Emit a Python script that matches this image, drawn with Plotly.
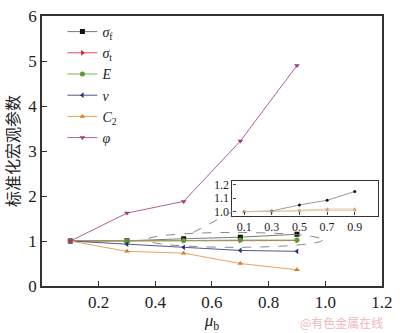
import plotly.graph_objects as go

mu_b = [0.1, 0.3, 0.5, 0.7, 0.9]
sigma_f = [1.0, 1.005, 1.05, 1.085, 1.15]
sigma_t = [1.0, 1.0, 1.005, 1.01, 1.01]
E_mod = [1.0, 1.0, 1.01, 1.02, 1.02]
nu = [1.0, 0.93, 0.86, 0.79, 0.77]
C2 = [1.0, 0.77, 0.73, 0.50, 0.36]
phi = [1.0, 1.62, 1.88, 3.22, 4.90]

x_ticks = [0.2, 0.4, 0.6, 0.8, 1.0, 1.2]
x_tick_text = ["0.2", "0.4", "0.6", "0.8", "1.0", "1.2"]
y_ticks = [0, 1, 2, 3, 4, 5, 6]
inset_x_ticks = [0.1, 0.3, 0.5, 0.7, 0.9]
inset_y_ticks = [1.0, 1.1, 1.2]

series = [
    ("<i>σ</i><sub>f</sub>", sigma_f, "#7a7a7a", "#111111", "square"),
    ("<i>σ</i><sub>t</sub>", sigma_t, "#e05060", "#d02030", "triangle-right"),
    ("<i>E</i>", E_mod, "#7ab050", "#5a9a30", "circle"),
    ("<i>v</i>", nu, "#505890", "#283070", "triangle-left"),
    ("<i>C</i><sub>2</sub>", C2, "#eba060", "#e07820", "triangle-up"),
    ("<i>φ</i>", phi, "#b0609a", "#9a3a80", "triangle-down"),
]

SERIF = "Liberation Serif, serif"

fig = go.Figure()
for name, ys, lc, mc, sym in series:
    fig.add_trace(go.Scatter(
        x=mu_b, y=ys, mode="lines+markers", name=name,
        line=dict(color=lc, width=1),
        marker=dict(color=mc, symbol=sym, size=5),
        xaxis="x", yaxis="y",
    ))

# inset traces
for name, ys, lc, mc, sym in series:
    if "σ</i><sub>f" in name:
        lcol, mcol = "#9a9a9a", "#111111"
    else:
        lcol, mcol = "rgba(215,195,150,0.8)", "rgba(200,160,120,0.8)"
    if max(ys) > 1.3 or min(ys) < 0.95:
        continue
    fig.add_trace(go.Scatter(
        x=mu_b, y=ys, mode="lines+markers", showlegend=False,
        line=dict(color=lcol, width=1),
        marker=dict(color=mcol, size=3),
        xaxis="x2", yaxis="y2",
    ))

axis_common = dict(
    showline=True, linecolor="#333333", linewidth=1.5, mirror=True,
    ticks="inside", ticklen=5, tickcolor="#333333", showgrid=False, zeroline=False,
)

fig.update_layout(
    width=400, height=333,
    margin=dict(l=42, r=10, t=7, b=46),
    paper_bgcolor="white", plot_bgcolor="white",
    font=dict(family=SERIF, size=17, color="#222222"),
    xaxis=dict(range=[0, 1.2001], tickvals=x_ticks, ticktext=x_tick_text,
               tickfont=dict(family=SERIF, size=17), ticklabeloverflow="allow",
               title=dict(text="<i>μ</i><sub>b</sub>", standoff=2,
                          font=dict(family=SERIF, size=17)),
               **axis_common),
    yaxis=dict(range=[0, 6.0001], tickvals=y_ticks,
               tickfont=dict(family=SERIF, size=17), ticklabeloverflow="allow",
               title=dict(text="标准化宏观参数", standoff=6,
                          font=dict(family="Noto Sans CJK SC", size=16)),
               **axis_common),
    xaxis2=dict(domain=[0.56, 0.989], anchor="y2", range=[0.015, 1.07],
                tickvals=inset_x_ticks, tickfont=dict(family=SERIF, size=12),
                showline=True, linecolor="#333333", linewidth=1.2, mirror=True,
                ticks="inside", ticklen=3, showgrid=False, zeroline=False),
    yaxis2=dict(domain=[0.261, 0.389], anchor="x2", range=[0.971, 1.229],
                tickvals=inset_y_ticks, ticktext=["1.0", "1.1", "1.2"],
                tickfont=dict(family=SERIF, size=12),
                showline=True, linecolor="#333333", linewidth=1.2, mirror=True,
                ticks="inside", ticklen=3, showgrid=False, zeroline=False),
    legend=dict(x=0.06, y=1.0, xanchor="left", yanchor="top",
                bgcolor="rgba(0,0,0,0)", font=dict(size=14, family=SERIF),
                itemwidth=30, tracegroupgap=0),
    shapes=[
        dict(type="circle", xref="x", yref="y", x0=0.37, x1=0.99, y0=0.86, y1=1.19,
             line=dict(color="#888888", width=1, dash="dash")),
        dict(type="line", xref="x", yref="y", x0=0.534, y0=1.19, x1=0.672, y1=1.65,
             line=dict(color="#888888", width=1, dash="dash")),
    ],
    annotations=[
        dict(text="@有色金属在线", xref="paper", yref="paper", x=1.01, y=-0.095,
             xanchor="right", yanchor="top", showarrow=False,
             font=dict(family="Noto Sans CJK SC", size=12, color="#f0b8b8")),
    ],
)

fig.write_html("out.html")
